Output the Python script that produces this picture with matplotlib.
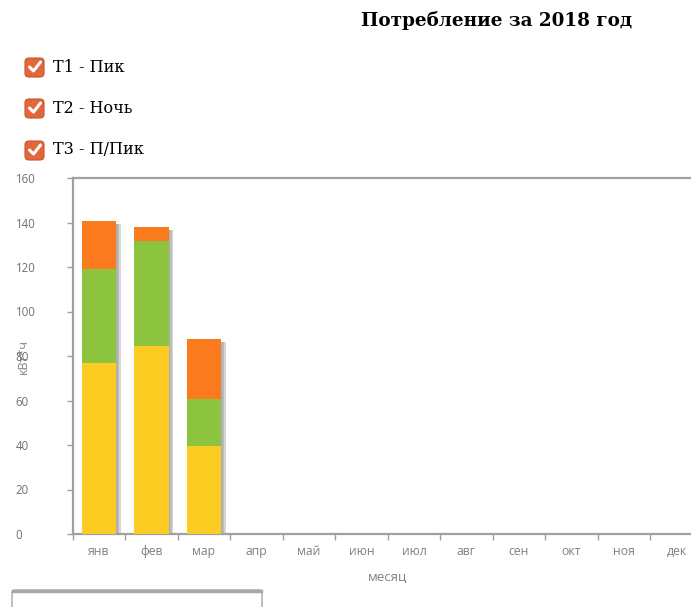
import matplotlib
matplotlib.use("Agg")
import matplotlib.pyplot as plt
import matplotlib.transforms as mtransforms
from matplotlib.patches import FancyBboxPatch
from matplotlib.lines import Line2D
from matplotlib import font_manager
import numpy as np

months = ["янв", "фев", "мар", "апр", "май", "июн", "июл", "авг", "сен", "окт", "ноя", "дек"]
t1_peak = [76.7, 84.6, 39.6, 0, 0, 0, 0, 0, 0, 0, 0, 0]
t2_night = [42.3, 47.2, 20.9, 0, 0, 0, 0, 0, 0, 0, 0, 0]
t3_halfpeak = [21.7, 6.0, 27.3, 0, 0, 0, 0, 0, 0, 0, 0, 0]
series_names = ["T1 - Пик", "T2 - Ночь", "T3 - П/Пик"]
y_ticks = [0, 20, 40, 60, 80, 100, 120, 140, 160]
title = "Потребление за 2018 год"

available = {f.name for f in font_manager.fontManager.ttflist}
legend_family = "DejaVu Serif Condensed" if "DejaVu Serif Condensed" in available else "DejaVu Serif"

colors = ["#FDCC22", "#8CC43F", "#FC7A1E"]
W, H = 691, 607
fig = plt.figure(figsize=(W / 100, H / 100), dpi=100)

ax_left, ax_right = 72.7, 72.7 + 630
ax_top, ax_bottom = 178, 534
ax = fig.add_axes([ax_left / W, 1 - ax_bottom / H, (ax_right - ax_left) / W, (ax_bottom - ax_top) / H])

x = np.arange(len(months))
t1 = np.array(t1_peak); t2 = np.array(t2_night); t3 = np.array(t3_halfpeak)
total = t1 + t2 + t3
bw = 0.65

# shadows
for k, a in enumerate([0.07, 0.11, 0.16]):
    off = mtransforms.offset_copy(ax.transData, fig=fig, x=(k + 1) * 1.5 * 72 / 100, y=-3 * 72 / 100, units='points')
    ax.bar(x, total, width=bw, color="#000000", alpha=a, transform=off, zorder=1, linewidth=0)

ax.bar(x, t1, width=bw, color=colors[0], zorder=3, linewidth=0)
ax.bar(x, t2, width=bw, bottom=t1, color=colors[1], zorder=3, linewidth=0)
ax.bar(x, t3, width=bw, bottom=t1 + t2, color=colors[2], zorder=3, linewidth=0)

ax.set_xlim(-0.5, len(months) - 0.5)
ax.set_ylim(0, 160)
spine_c = "#a0a0a0"
for s in ax.spines.values():
    s.set_color(spine_c)
    s.set_linewidth(1.6)
ax.set_yticks(y_ticks)
ax.set_yticklabels([str(v) for v in y_ticks], fontsize=8.3, color="#707070", family="Open Sans", ha="left")
ax.tick_params(axis="y", length=4, width=1, color=spine_c, pad=37)
ax.set_xticks(x)
ax.set_xticklabels(months, fontsize=8.8, color="#808080", family="Open Sans")
ax.set_xticks(np.arange(-0.5, len(months), 1), minor=True)
ax.tick_params(axis="x", which="major", length=0, pad=8)
ax.tick_params(axis="x", which="minor", length=4, width=1, color=spine_c)

fig.text(387.7 / W, 1 - 577 / H, "месяц", ha="center", va="center", fontsize=9.5, color="#808080", family="Open Sans")
fig.text(23 / W, 1 - 356 / H, "кВт*ч", ha="center", va="center", rotation=90, fontsize=9, color="#808080", family="Open Sans")

fig.text(497 / W, 1 - 20 / H, title, ha="center", va="center", fontsize=13.2, fontweight="bold", family="DejaVu Serif")

for i, (name, yy) in enumerate(zip(series_names, [67, 108, 150])):
    box = FancyBboxPatch(((25) / W, 1 - (yy + 10) / H), 19 / W, 19 / H,
                         boxstyle="round,pad=0,rounding_size=0.006", transform=fig.transFigure,
                         facecolor="#E2673A", edgecolor="#C8552C", linewidth=0.8)
    fig.patches.append(box)
    fig.lines.append(Line2D([29.5 / W, 33.5 / W, 40.5 / W], [1 - (yy + 0) / H, 1 - (yy + 4) / H, 1 - (yy - 5) / H],
                            transform=fig.transFigure, color="white", linewidth=2.2, solid_capstyle="round"))
    fig.text(53 / W, 1 - yy / H, name, ha="left", va="center", fontsize=11.5, family=legend_family)

bottom_box = FancyBboxPatch((12 / W, 1 - 620 / H), 250 / W, 30 / H, boxstyle="round,pad=0,rounding_size=0.004",
                            transform=fig.transFigure, facecolor="white", edgecolor="#b5b5b5", linewidth=1.2)
fig.patches.append(bottom_box)
fig.lines.append(Line2D([13 / W, 261 / W], [1 - 591 / H, 1 - 591 / H], transform=fig.transFigure, color="#a8a8a8", linewidth=2.5))

fig.savefig("out.png", dpi=100)
